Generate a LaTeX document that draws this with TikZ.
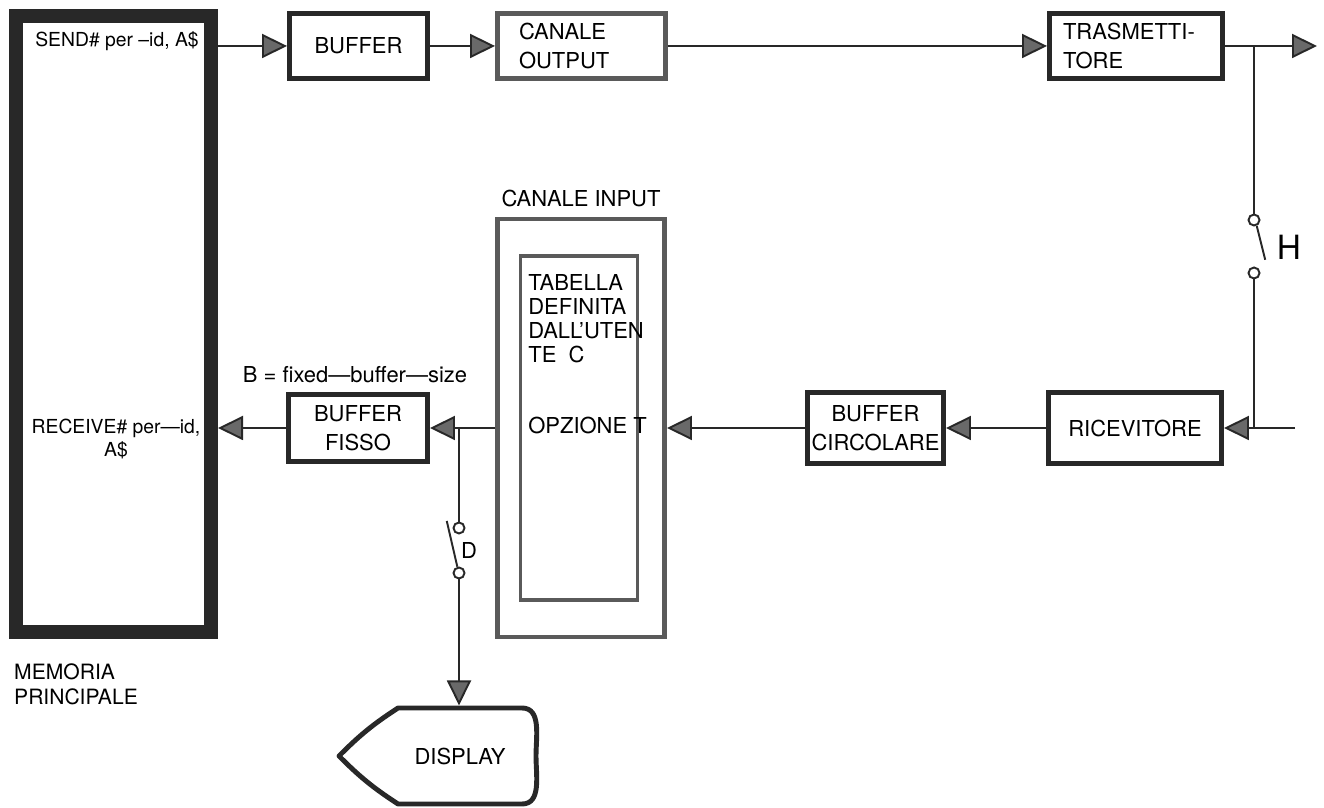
\documentclass[tikz,border=0pt]{standalone}
\usepackage{fontspec}
\setmainfont{TeX Gyre Heros}
\usepackage{tikz}
\usetikzlibrary{arrows.meta, positioning, calc}
\definecolor{mydark}{RGB}{40,40,40}
\definecolor{mygrey}{RGB}{90,90,90}
\definecolor{myfill}{RGB}{105,105,105}
\tikzset{
  block/.style={rectangle, draw=mydark, fill=white, line width=2.8pt,
    minimum height=1.3cm, font=\fontsize{12.5}{16.5}\selectfont, inner sep=2pt},
  greyblock/.style={block, draw=mygrey},
  membox/.style={rectangle, draw=mydark, line width=0.28cm,
    minimum width=3.9cm, minimum height=12.32cm},
  contact/.style={circle, draw=mydark, fill=white, line width=1.1pt,
    minimum size=0.22cm, inner sep=0pt},
  arrow/.style={-{Triangle[length=0.5cm, width=0.48cm, fill=myfill]},
    line width=1.1pt, color=mydark},
  line/.style={line width=1.1pt, color=mydark}
}

\begin{document}
\begin{tikzpicture}[every node/.style={font=\fontsize{12.5}{15}\selectfont}]
  \useasboundingbox (0,0) rectangle (26.48,16.14);

  % Memoria principale
  \node[membox] (mem) at (2.27,9.66) {};
  \node[font=\fontsize{11}{13.6}\selectfont] (send) at (2.34,15.32) {SEND\# per --id, A\$};
  \node[font=\fontsize{11}{13.6}\selectfont, align=center] (recv) at (2.32,7.36) {RECEIVE\# per---id,\\A\$};
  \node[anchor=west, align=left, font=\fontsize{12}{14.2}\selectfont] (memlbl) at (0.16,2.45) {MEMORIA\\PRINCIPALE};

  % Riga di uscita
  \node[block, minimum width=2.76cm] (buf) at (7.17,15.22) {BUFFER};
  \node[greyblock, minimum width=3.36cm, text width=2.5cm, align=left] (canout) at (11.63,15.22) {CANALE\\OUTPUT};
  \node[block, minimum width=3.46cm, text width=2.92cm, align=left] (tx) at (22.72,15.22) {TRASMETTI-\\TORE};
  \coordinate (tap) at (25.08,15.22);
  \coordinate (out) at (26.34,15.22);

  \draw[arrow] (mem.east |- buf) -- (buf);
  \draw[arrow] (buf) -- (canout);
  \draw[arrow] (canout) -- (tx);
  \draw[line] (tx) -- (tap);
  \draw[arrow] (tap) -- (out);

  % Deviazione H
  \node[contact] (h1) at (25.08,11.74) {};
  \node[contact] (h2) at (25.08,10.68) {};
  \node[font=\fontsize{19}{22}\selectfont] (hlbl) at (25.78,11.2) {H};
  \coordinate (rxtap) at (25.08,7.58);
  \coordinate (in) at (25.9,7.58);
  \draw[line] (tap) -- (h1);
  \draw[line] (h1.-65) -- ++(-76:0.7);
  \draw[line] (h2) -- (rxtap);

  % Riga di ingresso
  \node[block, minimum width=3.46cm, minimum height=1.42cm] (rx) at (22.7,7.58) {RICEVITORE};
  \node[block, minimum width=2.72cm, minimum height=1.42cm, align=center] (bcirc) at (17.51,7.58) {BUFFER\\CIRCOLARE};
  \node[greyblock, minimum width=3.34cm, minimum height=8.36cm] (canin) at (11.62,7.58) {};
  \node[greyblock, line width=2.2pt, minimum width=2.34cm, minimum height=6.88cm] (tab) at (11.58,7.58) {};
  \node[above=0.06cm of canin] (caninlbl) {CANALE INPUT};
  \node[anchor=north west, align=left, inner sep=0pt, font=\fontsize{12.5}{13.6}\selectfont] (tabtxt) at (10.56,10.66) {TABELLA\\DEFINITA\\DALL'UTEN\\TE\ \ C};
  \node[anchor=west, inner sep=0pt] (opt) at (10.56,7.64) {OPZIONE\ T};
  \node[block, minimum width=2.78cm, minimum height=1.34cm, align=center] (bfix) at (7.16,7.58) {BUFFER\\FISSO};
  \node (blbl) at (7.1,8.64) {B = fixed---buffer---size};
  \coordinate (dtap) at (9.18,7.58);

  \draw[arrow] (in) -- (rx);
  \draw[arrow] (rx) -- (bcirc);
  \draw[arrow] (bcirc) -- (canin);
  \draw[line] (canin) -- (dtap);
  \draw[arrow] (dtap) -- (bfix);
  \draw[arrow] (bfix) -- (mem.east |- bfix);

  % Deviazione D e display
  \node[contact] (d1) at (9.18,5.58) {};
  \node[contact] (d2) at (9.18,4.68) {};
  \node (dlbl) at (9.38,5.14) {D};
  \node (disp) at (9.2,1.02) {DISPLAY};
  \coordinate (disptop) at (9.18,2.03);
  \draw[line] (dtap) -- (d1);
  \draw[line] (d2.105) -- ++(103:0.94);
  \draw[arrow] (d2) -- (disptop);
  \draw[mydark, line width=2.8pt, line join=round]
    (7.96,1.98) -- (10.44,1.98) to[out=0, in=90] (10.72,1.02)
    to[out=-90, in=0] (10.44,0.06) -- (7.96,0.06)
    to[bend left=6] (6.78,1.02) to[bend left=6] (7.96,1.98) -- cycle;
\end{tikzpicture}
\end{document}
